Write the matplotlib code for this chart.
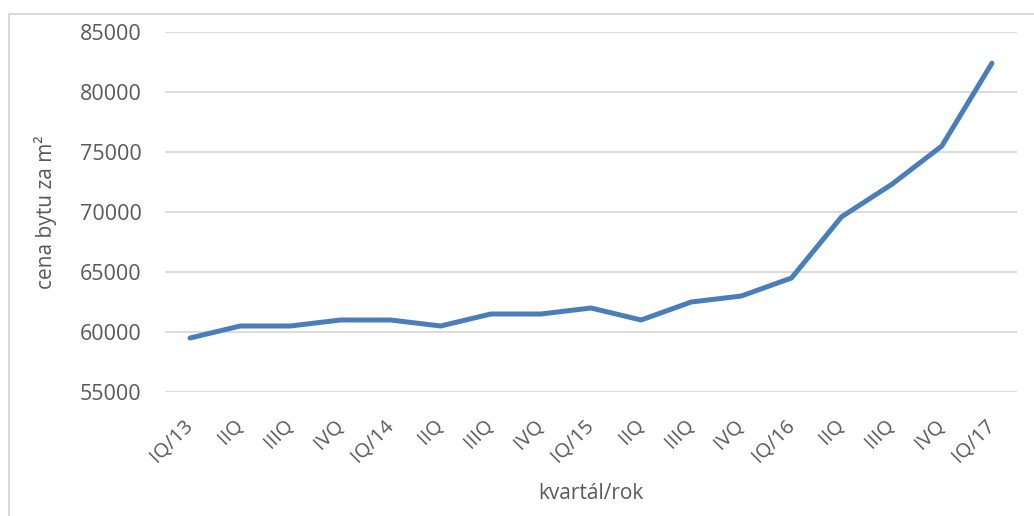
import matplotlib
matplotlib.use("Agg")
from matplotlib import pyplot as plt
from matplotlib.patches import Rectangle

# prices per square metre, quarterly
quarters = ["IQ/13", "IIQ", "IIIQ", "IVQ",
            "IQ/14", "IIQ", "IIIQ", "IVQ",
            "IQ/15", "IIQ", "IIIQ", "IVQ",
            "IQ/16", "IIQ", "IIIQ", "IVQ",
            "IQ/17"]
prices = [59500, 60500, 60500, 61000,
          61000, 60500, 61500, 61500,
          62000, 61000, 62500, 63000,
          64500, 69600, 72300, 75500,
          82400]
y_ticks = [55000, 60000, 65000, 70000, 75000, 80000, 85000]

plt.rcParams['font.family'] = ['Open Sans', 'DejaVu Sans']
text_color = '#595959'
grid_color = '#d9d9d9'

fig = plt.figure(figsize=(10.34, 5.16), dpi=100)
ax = fig.add_axes([165 / 1034, 1 - 392 / 516, 852 / 1034, 360 / 516])

# chart frame
fig.patches.append(Rectangle((9 / 1034, -0.1), 1.2, 1 - 14 / 516 + 0.1,
                             transform=fig.transFigure, fill=False,
                             edgecolor=grid_color, linewidth=1.5))

x = list(range(len(quarters)))
ax.plot(x, prices, color='#4a7ebb', linewidth=3.6,
        solid_capstyle='round', solid_joinstyle='round', zorder=3)

ax.set_xlim(-0.5, len(quarters) - 0.5)
ax.set_ylim(y_ticks[0], y_ticks[-1])
ax.set_yticks(y_ticks)
ax.set_yticklabels([str(v) for v in y_ticks])
ax.set_xticks(x)
ax.set_xticklabels(quarters, rotation=45, ha='right', va='center',
                   rotation_mode='anchor')

ax.grid(axis='y', color=grid_color, linewidth=1.3)
ax.set_axisbelow(True)
for side in ax.spines.values():
    side.set_visible(False)
ax.tick_params(axis='x', length=0, labelsize=14.5, colors=text_color, pad=22)
ax.tick_params(axis='y', length=0, labelsize=15.5, colors=text_color, pad=17)

ax.set_xlabel('kvartál/rok', fontsize=15, color=text_color, labelpad=12)
ax.set_ylabel('cena bytu za m²', fontsize=15, color=text_color, labelpad=16)

fig.savefig('out.png', dpi=100)
